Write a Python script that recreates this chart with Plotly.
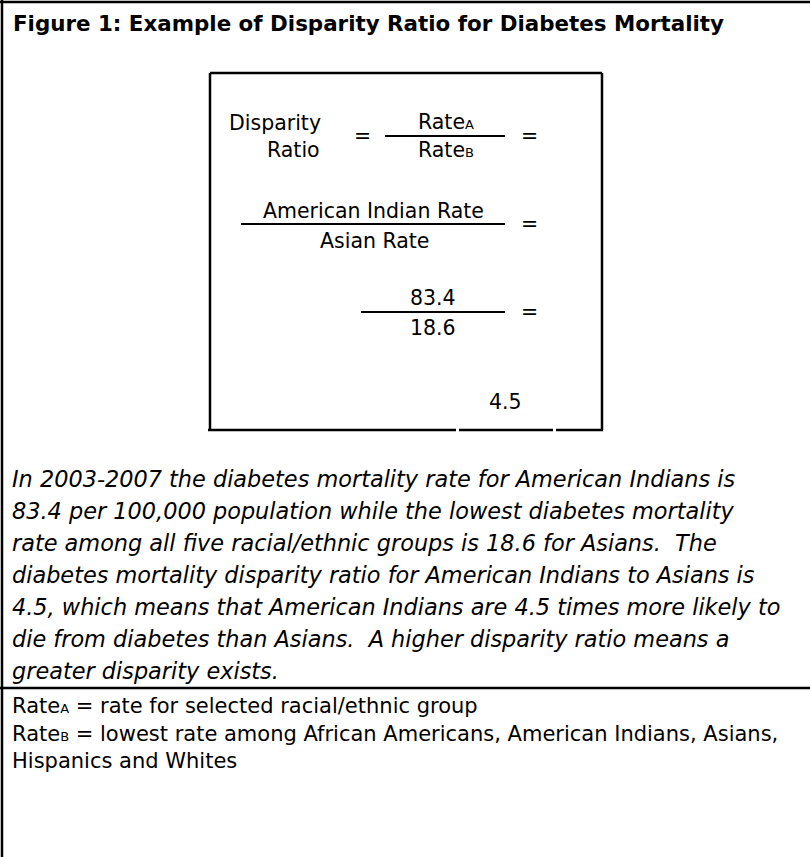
import plotly.graph_objects as go

# ---- content / data ----
title_text = "Figure 1: Example of Disparity Ratio for Diabetes Mortality"
rate_a_value = 83.4          # American Indian diabetes mortality rate
rate_b_value = 18.6          # Asian diabetes mortality rate (lowest)
ratio_value = 4.5            # disparity ratio
group_a = "American Indian Rate"
group_b = "Asian Rate"
SUB = "<span style='font-size:13px'>{}</span>"
paragraph_lines = [
    "In 2003-2007 the diabetes mortality rate for American Indians is",
    "83.4 per 100,000 population while the lowest diabetes mortality",
    "rate among all five racial/ethnic groups is 18.6 for Asians.  The",
    "diabetes mortality disparity ratio for American Indians to Asians is",
    "4.5, which means that American Indians are 4.5 times more likely to",
    "die from diabetes than Asians.  A higher disparity ratio means a",
    "greater disparity exists.",
]
footnote_lines = [
    "Rate" + SUB.format("A") + " = rate for selected racial/ethnic group",
    "Rate" + SUB.format("B") + " = lowest rate among African Americans, American Indians, Asians,",
    "Hispanics and Whites",
]

W, H = 810, 857
FONT = "DejaVu Sans"
fig = go.Figure()
fig.update_layout(
    width=W, height=H, margin=dict(l=0, r=0, t=0, b=0),
    paper_bgcolor="white", plot_bgcolor="white", showlegend=False,
    xaxis=dict(range=[0, W], visible=False, fixedrange=True),
    yaxis=dict(range=[H, 0], visible=False, fixedrange=True),
)

def line(x0, y0, x1, y1, w=2.5):
    fig.add_shape(type="line", x0=x0, y0=y0, x1=x1, y1=y1, xref="x", yref="y",
                  line=dict(color="black", width=w))

def text(t, x, y, size=18, anchor="center", italic=False, bold=False):
    if bold:
        t = "<b>" + t + "</b>"
    if italic:
        t = "<i>" + t + "</i>"
    fig.add_annotation(text=t, x=x, y=y, xref="x", yref="y", showarrow=False,
                       xanchor=anchor, yanchor="middle",
                       font=dict(family=FONT, size=size, color="black"))

# outer frame
line(0, 2, W, 2)
line(2, 0, 2, H)
line(0, 688, W, 688)

# inner formula box
bx0, by0, bx1, by1 = 210, 73, 602, 430
line(bx0, by0, bx1, by0)
line(bx0, by0, bx0, by1)
line(bx1, by0, bx1, by1)
line(bx0 - 2, by1, 456, by1)
line(459, by1, 553, by1)
line(556, by1, bx1 + 1, by1)

# title
text(title_text, 11, 23, size=21.4, anchor="left", bold=True)

# formula row 1
FS = 20.5
text("Disparity", 275, 123, size=FS)
text("Ratio", 322, 150, size=FS, anchor="right")
text("=", 362, 136, size=FS)
text("Rate" + SUB.format("A"), 446, 122, size=FS)
line(385, 136, 505, 136, 2)
text("Rate" + SUB.format("B"), 446, 150, size=FS)
text("=", 529, 136, size=FS)

# formula row 2
text(group_a, 373, 211, size=FS)
line(241, 224, 505, 224, 2)
text(group_b, 374, 241, size=FS)
text("=", 529, 224, size=FS)

# formula row 3
text(f"{rate_a_value}", 433, 298, size=FS)
line(361, 312, 505, 312, 2)
text(f"{rate_b_value}", 433, 328, size=FS)
text("=", 529, 312, size=FS)

# result
text(f"{ratio_value}", 505, 402, size=FS)

# paragraph
for i, ln in enumerate(paragraph_lines):
    text(ln, 10, 479 + i * 32, size=22.4, anchor="left", italic=True)

# footnotes
for i, ln in enumerate(footnote_lines):
    text(ln, 10, 706 + i * 27.5, size=21, anchor="left")

fig.write_html(
    "out.html",
    config={"displayModeBar": False},
    post_script="document.body.style.margin='0';document.body.style.overflow='hidden';",
)
